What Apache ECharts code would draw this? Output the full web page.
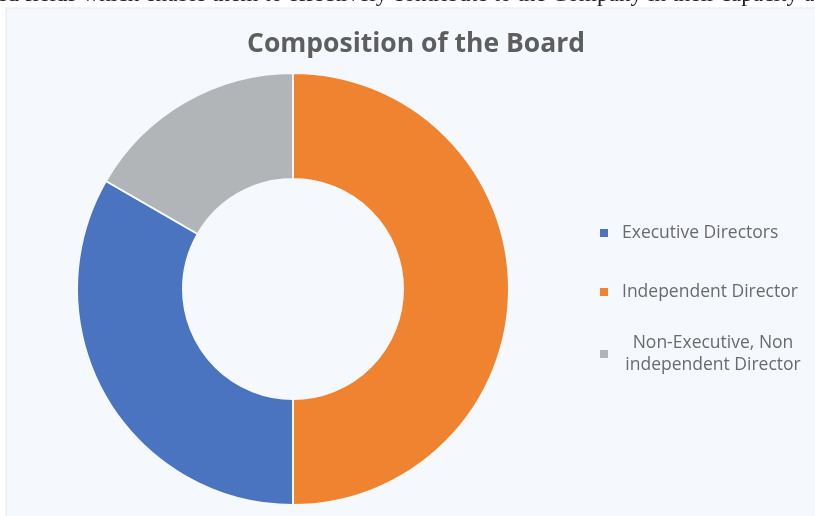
<!DOCTYPE html>
<html>
<head>
<meta charset="utf-8">
<script src="https://cdn.jsdelivr.net/npm/echarts@6/dist/echarts.min.js"></script>
<style>html,body{margin:0;padding:0;background:#fff}#c{width:815px;height:516px}</style>
</head>
<body>
<div id="c"></div>
<script>
const categories = ['Executive Directors', 'Independent Director', 'Non-Executive, Non\nindependent Director'];
const values = [2, 3, 1];
const colors = ['#4a74c0', '#ef832f', '#b1b5b8'];
const titleText = 'Composition of the Board';
const topText = 'ed fields which enable them to effectively contribute to the Company in their capacity a';

const chart = echarts.init(document.getElementById('c'));
const legendTops = [217, 276, 327];
const legends = categories.map((name, i) => ({
  data: [name],
  left: 593,
  top: legendTops[i],
  orient: 'vertical',
  icon: 'rect',
  itemWidth: 10,
  itemHeight: 10,
  itemGap: 10,
  selectedMode: false,
  textStyle: {
    color: '#6a6a6a',
    fontFamily: 'Open Sans',
    fontSize: 17.5,
    lineHeight: 22,
    padding: [0, 0, 0, 8],
    rich: { c: { width: 182, align: 'center', color: '#6a6a6a', fontFamily: 'Open Sans', fontSize: 17.5, lineHeight: 22 } }
  },
  formatter: n => n.indexOf('\n') >= 0 ? n.split('\n').map(l => '{c|' + l + '}').join('\n') : n
}));

chart.setOption({
  backgroundColor: '#ffffff',
  animation: false,
  color: colors,
  graphic: [
    { type: 'rect', z: -10, shape: { x: 6, y: 8, width: 815, height: 520 }, style: { fill: '#f5f9fd', stroke: '#e6ebf0', lineWidth: 1 } },
    { type: 'text', z: 10, left: -3, top: -17, style: { text: topText, font: '23.3px "Liberation Serif"', fill: '#222' } }
  ],
  title: {
    text: titleText,
    left: 242,
    top: 26,
    textStyle: { color: '#5e5e5e', fontFamily: 'Open Sans', fontWeight: 'bold', fontSize: 26.5 }
  },
  legend: legends,
  series: [{
    type: 'pie',
    center: [293, 289],
    radius: [110, 216],
    startAngle: 150,
    clockwise: false,
    label: { show: false },
    labelLine: { show: false },
    silent: true,
    itemStyle: { borderColor: '#f5f9fd', borderWidth: 2 },
    data: categories.map((n, i) => ({ name: n, value: values[i] }))
  }]
});
</script>
</body>
</html>
